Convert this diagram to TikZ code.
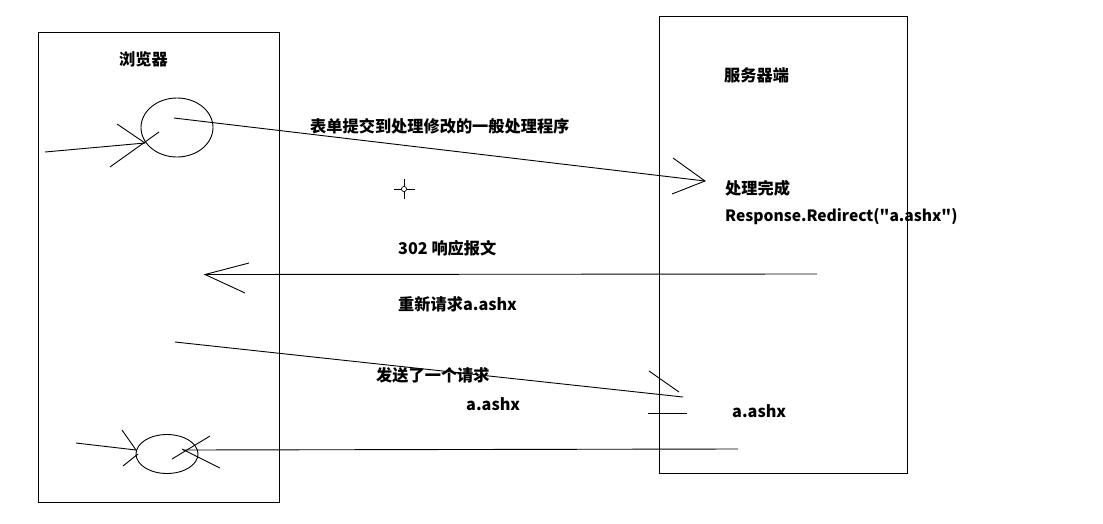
\documentclass[tikz,border=0pt]{standalone}
\usepackage{fontspec}
\setmainfont{Noto Sans CJK SC}
% same face, with straight quotes kept as typed
\newfontfamily\plainquotes{Noto Sans CJK SC}[Ligatures=TeXOff]
\begin{document}
\begin{tikzpicture}[x=1pt,y=-1pt,
  stroke/.style={line width=0.9pt,black},
  lbl/.style={anchor=west,inner sep=0pt,font=\bfseries\fontsize{16.2}{17}\selectfont},
  party/.style={draw,line width=0.9pt}]
\useasboundingbox[fill=white] (0,0) rectangle (1103,523);

% the two parties
\draw[party] (38,32) rectangle (279,502);
\draw[party] (659,16) rectangle (907,473);
\node[lbl] (browser) at (119,59) {浏览器};
\node[lbl] (server) at (724,75) {服务器端};

% request: form submitted to the handler
\draw[stroke] (177,127.5) ellipse [x radius=36,y radius=29.5];
\coordinate (a0) at (45,152);
\coordinate (a1) at (145,143);
\draw[stroke] (a0) -- (a1);
\draw[stroke] (117,124) -- (a1);
\draw[stroke] (110,167) -- (159,132);
\coordinate (b0) at (174,118);
\coordinate (b1) at (705,181);
\draw[stroke] (b0) -- (b1);
\draw[stroke] (673,158) -- (b1) -- (672,194);
\node[lbl] (submit) at (310,126) {表单提交到处理修改的一般处理程序};

% cursor mark
\draw[line width=0.7pt] (404,189) circle (2.6);
\draw[line width=1pt] (394,189) -- (401,189) (407,189) -- (415,189)
                      (404,179) -- (404,186) (404,192) -- (404,199);

\node[lbl] (done) at (725,188) {处理完成};
\node[lbl,font=\plainquotes\bfseries\fontsize{15.6}{17}\selectfont] (redir) at (725,217) {Response.Redirect("a.ashx")};

% 302 response
\coordinate (c0) at (817,274);
\coordinate (c1) at (205,274.5);
\draw[stroke] (c0) -- (c1);
\draw[stroke] (249,263) -- (c1) -- (245,293);
\node[lbl] (resp) at (398,248) {302 响应报文};
\node[lbl] (again) at (398,304) {重新请求a.ashx};

% new request for a.ashx
\coordinate (d0) at (175,342);
\coordinate (d1) at (683,397);
\draw[stroke] (d0) -- (d1);
\draw[stroke] (649,371) -- (679,392);
\draw[stroke] (648,413) -- (687,413);
\node[lbl] (send) at (376,375) {发送了一个请求};
\node[lbl] (ashx1) at (466,404) {a.ashx};
\node[lbl] (ashx2) at (732,411) {a.ashx};

% response arriving back at the browser
\draw[stroke] (167,454) ellipse [x radius=31,y radius=19.5];
\coordinate (e0) at (738,449);
\coordinate (e1) at (183,450);
\draw[stroke] (e0) -- (e1);
\draw[stroke] (172,459) -- (210,436);
\draw[stroke] (182,449) -- (220,468);
\coordinate (f0) at (76,443);
\coordinate (f1) at (136,450);
\draw[stroke] (f0) -- (f1);
\draw[stroke] (122,430) -- (f1);
\draw[stroke] (123,466) -- (138,454);
\end{tikzpicture}
\end{document}
